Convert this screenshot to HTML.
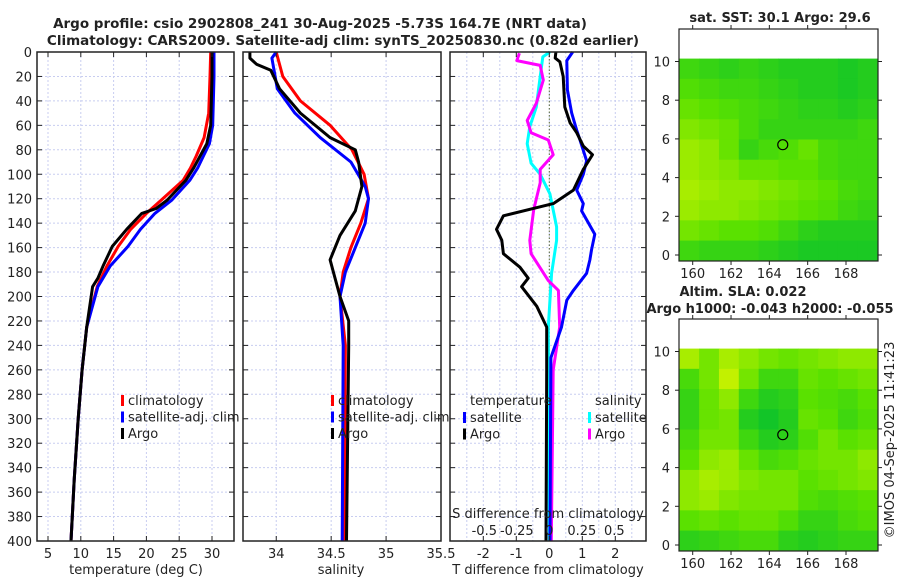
<!DOCTYPE html>
<html><head><meta charset="utf-8">
<style>
body{margin:0;background:#fff;}
svg{display:block;font-family:"DejaVu Sans","Liberation Sans",sans-serif;}
</style></head>
<body>
<svg id="fig" width="900" height="580" viewBox="0 0 900 580"></svg>
<script>
// ---------- data ----------
const tempClimDepth=[0,20,50,70,85,95,105,121,132,145,159,175,192,225,260,300,350,400];
const tempClim=[29.8,29.7,29.5,28.8,27.6,26.7,25.6,22.3,20.0,17.6,15.7,14.0,12.5,10.9,10.2,9.6,9.0,8.5];
const tempSatDepth=[0,20,60,75,85,95,105,121,132,145,159,175,192,225,260,300,350,400];
const tempSat=[30.3,30.3,30.1,29.6,28.7,27.8,26.6,23.9,21.3,19.1,17.2,14.5,12.6,10.9,10.2,9.6,9.0,8.5];
const tempArgoDepth=[0,20,60,75,85,95,105,121,128,132,145,159,175,185,192,225,260,300,350,400];
const tempArgo=[30.0,30.0,29.8,29.2,28.2,27.2,26.0,23.2,21.5,19.3,17.0,14.8,13.4,12.6,11.8,10.9,10.2,9.6,9.0,8.5];

const salClimDepth=[0,20,40,60,80,100,120,140,160,180,200,240,400];
const salClim=[34.0,34.06,34.22,34.49,34.69,34.8,34.84,34.77,34.68,34.61,34.58,34.63,34.62];
const salSatDepth=[0,5,30,50,70,90,110,120,140,160,180,200,240,400];
const salSat=[34.0,33.96,34.01,34.17,34.4,34.68,34.81,34.84,34.81,34.72,34.63,34.58,34.61,34.6];
const salArgoDepth=[0,5,10,15,30,50,70,80,90,110,130,150,170,180,200,220,240,400];
const salArgo=[33.76,33.76,33.82,33.95,34.03,34.22,34.49,34.72,34.75,34.78,34.72,34.58,34.49,34.52,34.58,34.66,34.66,34.64];

const dTArgoDepth=[0,5,8,20,45,58,66,77,84,96,113,124,134,145,154,165,176,185,192,208,225,260,400];
const dTArgo=[0.2,0.18,0.32,0.42,0.47,0.63,0.83,1.03,1.31,1.03,0.73,0.12,-1.39,-1.6,-1.44,-1.39,-0.89,-0.64,-0.84,-0.38,-0.08,-0.08,-0.1];
const dTSatDepth=[0,7,31,50,64,72,89,100,113,124,130,149,162,170,181,195,203,225,250,400];
const dTSat=[0.71,0.53,0.55,0.68,0.83,0.93,1.13,1.03,0.83,1.03,0.98,1.38,1.28,1.23,1.13,0.73,0.53,0.37,0.05,0.02];
const dSSatDepth=[0,4,20,45,61,75,91,100,116,143,154,181,225,400];
const dSSat=[0.005,-0.05,-0.07,-0.1,-0.15,-0.17,-0.14,-0.07,0.005,0.056,0.056,0.018,-0.008,0.0];
const dSArgoDepth=[1,7,11,23,42,56,66,72,84,96,107,129,154,165,187,195,225,260,400];
const dSArgo=[-0.23,-0.25,-0.07,-0.046,-0.1,-0.17,-0.14,-0.008,0.03,-0.07,-0.07,-0.12,-0.15,-0.14,-0.008,0.07,0.08,0.03,0.015];

const depthTicks=[0,20,40,60,80,100,120,140,160,180,200,220,240,260,280,300,320,340,360,380,400];
const tempTicks=[5,10,15,20,25,30];
const salTicks=[34,34.5,35,35.5];
const salTickLabels=["34","34.5","35","35.5"];
const dTTicks=[-2,-1,0,1,2];
const dSTicks=[-0.5,-0.25,0,0.25,0.5];
const dSTickLabels=["-0.5","-0.25","0","0.25","0.5"];
const latTicks=[0,2,4,6,8,10];
const lonTicks=[160,162,164,166,168];

const sstGrid=[
[0.35,0.3,0.25,0.3,0.25,0.2,0.2,0.2,0.15,0.2],
[0.45,0.4,0.35,0.35,0.3,0.25,0.2,0.2,0.15,0.2],
[0.55,0.5,0.45,0.4,0.35,0.3,0.25,0.25,0.2,0.25],
[0.65,0.6,0.55,0.4,0.3,0.3,0.3,0.3,0.3,0.35],
[0.75,0.7,0.55,0.3,0.4,0.45,0.55,0.4,0.35,0.35],
[0.75,0.7,0.65,0.55,0.55,0.5,0.5,0.4,0.35,0.35],
[0.8,0.75,0.7,0.7,0.65,0.6,0.55,0.5,0.4,0.35],
[0.75,0.7,0.7,0.65,0.6,0.55,0.5,0.45,0.35,0.3],
[0.6,0.55,0.5,0.5,0.45,0.35,0.25,0.2,0.2,0.2],
[0.35,0.3,0.3,0.3,0.25,0.2,0.15,0.15,0.15,0.15]];
const slaGrid=[
[0.8,0.6,0.8,0.7,0.6,0.55,0.6,0.65,0.7,0.7],
[0.4,0.6,0.9,0.6,0.35,0.35,0.55,0.5,0.55,0.6],
[0.3,0.55,0.7,0.35,0.2,0.25,0.5,0.45,0.4,0.5],
[0.3,0.55,0.6,0.2,0.1,0.2,0.55,0.5,0.35,0.45],
[0.4,0.6,0.6,0.35,0.2,0.25,0.45,0.6,0.5,0.55],
[0.5,0.7,0.75,0.55,0.4,0.45,0.55,0.6,0.6,0.7],
[0.7,0.8,0.75,0.65,0.6,0.6,0.5,0.55,0.6,0.65],
[0.7,0.75,0.65,0.6,0.6,0.6,0.45,0.4,0.45,0.5],
[0.5,0.55,0.5,0.55,0.55,0.45,0.3,0.3,0.4,0.45],
[0.25,0.3,0.35,0.4,0.4,0.25,0.2,0.25,0.3,0.3]];
const argoLon=164.7, argoLat=5.7;

// ---------- helpers ----------
const NS="http://www.w3.org/2000/svg";
const svg=document.getElementById('fig');
function mk(tag,attrs,parent){const e=document.createElementNS(NS,tag);for(const k in attrs)e.setAttribute(k,attrs[k]);(parent||svg).appendChild(e);return e;}
function txt(x,y,s,size,anchor,weight,parent){const t=mk('text',{x:x,y:y,'font-size':size,'text-anchor':anchor||'middle','font-weight':weight||'normal',fill:'#222'},parent);t.textContent=s;return t;}

const Y0=52,Y1=541;
const yD=d=>Y0+d*(Y1-Y0)/400;
function lin(d0,d1,r0,r1){return v=>r0+(v-d0)*(r1-r0)/(d1-d0);}

function panel(name,x0,x1,xs,xticks,xlabels,showDepth){
  const g=mk('g',{});
  
  
  xticks.forEach(v=>{const x=xs(v);if(x>x0+1&&x<x1-1)mk('line',{x1:x,y1:Y0,x2:x,y2:Y1,stroke:'#c8cdf0','stroke-width':1,'stroke-dasharray':'2,2'},g);});
  depthTicks.forEach(d=>{const y=yD(d);mk('line',{x1:x0,y1:y,x2:x1,y2:y,stroke:'#c8cdf0','stroke-width':1,'stroke-dasharray':'2,2'},g);
    mk('line',{x1:x0,y1:y,x2:x0+5,y2:y,stroke:'#222'},g);mk('line',{x1:x1-5,y1:y,x2:x1,y2:y,stroke:'#222'},g);
    if(showDepth){const t=txt(x0-5,y+5,String(d),13,'end',null,g);}
  });
  return g;
}
function frame(g,x0,x1){mk('rect',{x:x0,y:Y0,width:x1-x0,height:Y1-Y0,fill:'none',stroke:'#222','stroke-width':1.5},g);}
function line(g,name,xs,vals,depths,color){
  const pts=vals.map((v,i)=>xs(v).toFixed(1)+','+yD(depths[i]).toFixed(1)).join(' ');
  const p=mk('polyline',{points:pts,fill:'none',stroke:color,'stroke-width':3,'stroke-linejoin':'round'},g);
  
  
}
function legend(g,x,y,entries){
  entries.forEach((e,i)=>{
    const yy=y+i*16.5;
    mk('rect',{x:x,y:yy-10,width:3,height:11,fill:e[1]},g);
    const t=txt(x+7,yy,e[0],13,'start',null,g);
    
    
  });
}

// ---------- titles ----------
let t=txt(320,28,'Argo profile: csio 2902808_241 30-Aug-2025 -5.73S 164.7E (NRT data)',13.5,'middle','bold');


t=txt(343,45,'Climatology: CARS2009. Satellite-adj clim: synTS_20250830.nc (0.82d earlier)',13.5,'middle','bold');



// ---------- temperature panel ----------
const xT=lin(5,30,48,212);
let g=panel('temperature-panel',37,234,xT,tempTicks,null,true);
line(g,'temp-climatology-line',xT,tempClim,tempClimDepth,'#ff0000');
line(g,'temp-satellite-line',xT,tempSat,tempSatDepth,'#0000ff');
line(g,'temp-argo-line',xT,tempArgo,tempArgoDepth,'#000000');
frame(g,37,234);
tempTicks.forEach(v=>{mk('line',{x1:xT(v),y1:Y1,x2:xT(v),y2:Y1-5,stroke:'#222'},g);mk('line',{x1:xT(v),y1:Y0,x2:xT(v),y2:Y0+5,stroke:'#222'},g);txt(xT(v),558,String(v),13,'middle',null,g);});
t=txt(136,574,'temperature (deg C)',13,'middle',null,g);


legend(g,121,405,[['climatology','#ff0000'],['satellite-adj. clim','#0000ff'],['Argo','#000000']]);

// ---------- salinity panel ----------
const xS=lin(33.7,35.5,243.3,441);
g=panel('salinity-panel',243,441,xS,salTicks,null,false);
line(g,'sal-climatology-line',xS,salClim,salClimDepth,'#ff0000');
line(g,'sal-satellite-line',xS,salSat,salSatDepth,'#0000ff');
line(g,'sal-argo-line',xS,salArgo,salArgoDepth,'#000000');
frame(g,243,441);
salTicks.forEach((v,i)=>{mk('line',{x1:xS(v),y1:Y1,x2:xS(v),y2:Y1-5,stroke:'#222'},g);mk('line',{x1:xS(v),y1:Y0,x2:xS(v),y2:Y0+5,stroke:'#222'},g);txt(xS(v),558,salTickLabels[i],13,'middle',null,g);});
t=txt(341,574,'salinity',13,'middle',null,g);


legend(g,331,405,[['climatology','#ff0000'],['satellite-adj. clim','#0000ff'],['Argo','#000000']]);

// ---------- difference panel ----------
const xdT=lin(0,1,549.3,582.3);
const xdS=lin(0,1,549.3,679.3);
g=panel('difference-panel',450,646,xdT,[-2.5,-2,-1.5,-1,-0.5,0,0.5,1,1.5,2,2.5],null,false);
mk('line',{x1:xdT(0),y1:Y0,x2:xdT(0),y2:Y1,stroke:'#556633','stroke-width':1,'stroke-dasharray':'1.5,2'},g);
line(g,'sal-satellite-diff-line',xdS,dSSat,dSSatDepth,'#00ffff');
line(g,'sal-argo-diff-line',xdS,dSArgo,dSArgoDepth,'#ff00ff');
line(g,'temp-satellite-diff-line',xdT,dTSat,dTSatDepth,'#0000ff');
line(g,'temp-argo-diff-line',xdT,dTArgo,dTArgoDepth,'#000000');
frame(g,450,646);
dTTicks.forEach(v=>{mk('line',{x1:xdT(v),y1:Y1,x2:xdT(v),y2:Y1-5,stroke:'#222'},g);mk('line',{x1:xdT(v),y1:Y0,x2:xdT(v),y2:Y0+5,stroke:'#222'},g);txt(xdT(v),558,String(v),13,'middle',null,g);});
dSTicks.forEach((v,i)=>{txt(xdS(v),535,dSTickLabels[i],13,'middle',null,g);});
t=txt(548,518,'S difference from climatology',13,'middle',null,g);


t=txt(548,574,'T difference from climatology',13,'middle',null,g);


txt(470,405,'temperature',13,'start',null,g);
txt(595,405,'salinity',13,'start',null,g);
legend(g,463,422,[['satellite','#0000ff'],['Argo','#000000']]);
legend(g,588,422,[['satellite','#00ffff'],['Argo','#ff00ff']]);

// ---------- maps ----------
function col(v){
  let r,gg,b;
  if(v<0.5){const f=v/0.5;r=0+90*f;gg=190+35*f;b=50-50*f;}
  else{const f=(v-0.5)/0.5;r=90+130*f;gg=225+20*f;b=0;}
  return 'rgb('+Math.round(r)+','+Math.round(gg)+','+Math.round(b)+')';
}
function map(name,top,bottom,grid,titles){
  const mg=mk('g',{});
  
  
  const x0=679,x1=878;
  const lonX=lin(160,168,692.7,846);
  const latY=lin(0,10,bottom-6,bottom-6-193.5);
  const lonMin=159.3,lonMax=169.65,latMin=-0.3,latMax=10.15;
  const nr=grid.length,nc=grid[0].length;
  for(let r=0;r<nr;r++)for(let c=0;c<nc;c++){
    const la0=latMax-(latMax-latMin)*r/nr, la1=latMax-(latMax-latMin)*(r+1)/nr;
    const lo0=lonMin+(lonMax-lonMin)*c/nc, lo1=lonMin+(lonMax-lonMin)*(c+1)/nc;
    const cell=mk('rect',{x:lonX(lo0),y:latY(la0),width:lonX(lo1)-lonX(lo0)+0.5,height:latY(la1)-latY(la0)+0.5,fill:col(grid[r][c])},mg);
    
    
  }
  const m=mk('circle',{cx:lonX(argoLon),cy:latY(argoLat),r:5,fill:'none',stroke:'#000','stroke-width':1.2},mg);
  
  
  mk('rect',{x:x0,y:top,width:x1-x0,height:bottom-top,fill:'none',stroke:'#222','stroke-width':1.2},mg);
  latTicks.forEach(v=>{const y=latY(v);mk('line',{x1:x0-4,y1:y,x2:x0,y2:y,stroke:'#222'},mg);mk('line',{x1:x1,y1:y,x2:x1+4,y2:y,stroke:'#222'},mg);txt(x0-9,y+5,String(v),13,'end',null,mg);});
  lonTicks.forEach(v=>{const x=lonX(v);mk('line',{x1:x,y1:bottom,x2:x,y2:bottom+4,stroke:'#222'},mg);mk('line',{x1:x,y1:top-4,x2:x,y2:top,stroke:'#222'},mg);txt(x,bottom+17,String(v),13,'middle',null,mg);});
  titles.forEach((s,i)=>{const tt=txt(s[1],s[2],s[0],13,'middle','bold',mg);});
}
map('sst-map',29,261,sstGrid,[['sat. SST: 30.1 Argo: 29.6',780,22]]);
map('sla-map',319,551,slaGrid,[['Altim. SLA: 0.022',743,296],['Argo h1000: -0.043 h2000: -0.055',770,313]]);

t=txt(0,0,'©IMOS 04-Sep-2025 11:41:23',13,'middle');
t.setAttribute('transform','translate(894,440) rotate(-90)');


</script>
</body></html>
